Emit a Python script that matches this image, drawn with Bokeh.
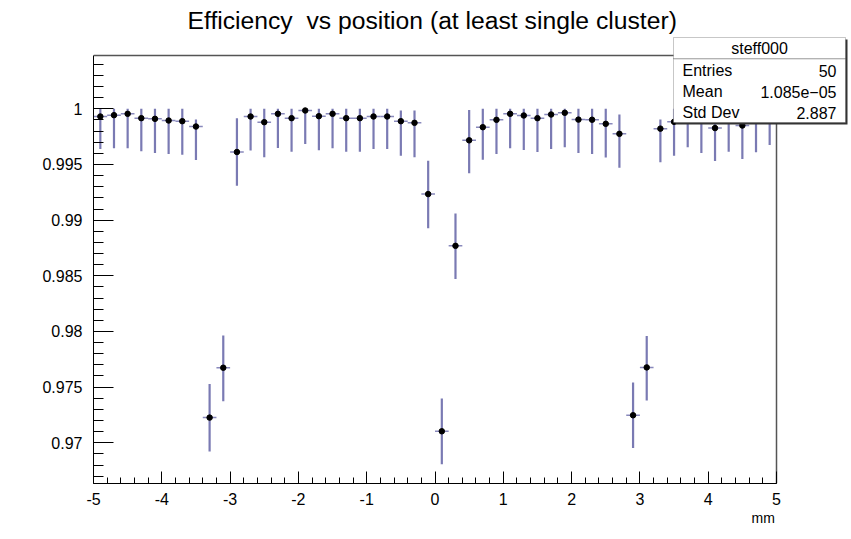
from bokeh.plotting import figure
from bokeh.models import FixedTicker, SingleIntervalTicker, Label, BoxAnnotation, ColumnDataSource, Range1d, Title
from bokeh.embed import file_html
from bokeh.resources import INLINE

# ---- data ----
bin_centers = [-4.9, -4.7, -4.5, -4.3, -4.1, -3.9, -3.7, -3.5, -3.3, -3.1,
               -2.9, -2.7, -2.5, -2.3, -2.1, -1.9, -1.7, -1.5, -1.3, -1.1,
               -0.9, -0.7, -0.5, -0.3, -0.1, 0.1, 0.3, 0.5, 0.7, 0.9,
               1.1, 1.3, 1.5, 1.7, 1.9, 2.1, 2.3, 2.5, 2.7, 2.9,
               3.1, 3.3, 3.5, 3.7, 3.9, 4.1, 4.3, 4.5, 4.7, 4.9]
efficiency = [0.99931, 0.99943, 0.99955, 0.99916, 0.99910, 0.99895, 0.99889, 0.99841, 0.97226, 0.97674,
              0.99612, 0.99931, 0.99880, 0.99955, 0.99916, 0.99985, 0.99934, 0.99955, 0.99916, 0.99916,
              0.99931, 0.99931, 0.99889, 0.99874, 0.99234, 0.97103, 0.98769, 0.99717, 0.99835, 0.99901,
              0.99955, 0.99940, 0.99916, 0.99949, 0.99964, 0.99903, 0.99902, 0.99865, 0.99775, 0.97247,
              0.97677, 0.99822, 0.99883, 0.99960, 0.99910, 0.99827, 0.99920, 0.99850, 0.99910, 0.99980]
err_low_edge = [0.99639, 0.99645, 0.99645, 0.99618, 0.99603, 0.99594, 0.99588, 0.99540, 0.96922, 0.97374,
                0.99309, 0.99626, 0.99564, 0.99648, 0.99615, 0.99684, 0.99627, 0.99645, 0.99615, 0.99615,
                0.99639, 0.99639, 0.99579, 0.99564, 0.98928, 0.96808, 0.98471, 0.99421, 0.99542, 0.99595,
                0.99645, 0.99630, 0.99612, 0.99638, 0.99654, 0.99603, 0.99595, 0.99562, 0.99471, 0.96953,
                0.97380, 0.99519, 0.99579, 0.99654, 0.99603, 0.99531, 0.99615, 0.99550, 0.99610, 0.99676]
err_high_edge = [1.0, 1.0, 1.0, 1.0, 1.0, 1.0, 1.0, 0.99903, 0.97528, 0.97963,
                 0.99915, 1.0, 1.0, 1.0, 1.0, 1.0, 1.0, 1.0, 1.0, 1.0,
                 1.0, 1.0, 0.99985, 0.99985, 0.99534, 0.97398, 0.99059, 0.99990, 1.0, 1.0,
                 1.0, 1.0, 1.0, 1.0, 1.0, 1.0, 1.0, 1.0, 0.99950, 0.97542,
                 0.97960, 0.99904, 1.0, 1.0, 1.0, 1.0, 1.0, 1.0, 1.0, 1.0]
bin_half_width = 0.1

x_axis_min, x_axis_max = -5.0, 5.0
y_axis_min, y_axis_max = 0.96634, 1.00479
x_major = [-5, -4, -3, -2, -1, 0, 1, 2, 3, 4, 5]
y_major = [0.97, 0.975, 0.98, 0.985, 0.99, 0.995, 1.0]
y_major_labels = ["0.97", "0.975", "0.98", "0.985", "0.99", "0.995", "1"]
y_minor = [round(0.967 + 0.001 * k, 3) for k in range(38)]

title_text = "Efficiency \u00a0vs position (at least single cluster)"
stats_name = "steff000"
stats_rows = [("Entries", "50"), ("Mean", "1.085e\u221205"), ("Std Dev", "2.887")]
x_title = "mm"

FONT = "Liberation Sans"
ERR_COLOR = "#6c6cab"

# pixel layout of the canvas (frame extended to hold the stats box)
FL, FR, FT, FB = 93, 848, 35, 483          # frame in canvas px
AX_R, AX_T = 776, 55                       # axis-box right / top in px
px_per_x = (AX_R - FL) / (x_axis_max - x_axis_min)
px_per_y = (FB - AX_T) / (y_axis_max - y_axis_min)
x_end = x_axis_max + (FR - AX_R) / px_per_x
y_end = y_axis_max + (AX_T - FT) / px_per_y

src = ColumnDataSource(dict(
    x=bin_centers, y=efficiency, lo=err_low_edge, hi=err_high_edge,
    xl=[c - bin_half_width for c in bin_centers],
    xr=[c + bin_half_width for c in bin_centers],
))

p = figure(width=851, height=539, output_backend="svg", toolbar_location=None,
           x_range=Range1d(x_axis_min, x_end), y_range=Range1d(y_axis_min, y_end),
           min_border_left=FL, min_border_right=851 - FR, min_border_top=FT, min_border_bottom=539 - FB)
p.background_fill_color = "white"
p.border_fill_color = "white"
p.outline_line_color = None
p.xgrid.visible = False
p.ygrid.visible = False

# axis box top and right edges
p.segment(x0=[x_axis_min, x_axis_max], y0=[y_axis_max, y_axis_min],
          x1=[x_axis_max, x_axis_max], y1=[y_axis_max, y_axis_max],
          line_color="#555555", line_width=1.5)

# error bars and markers
p.segment(x0="x", y0="lo", x1="x", y1="hi", source=src, line_color=ERR_COLOR, line_width=2.2, line_alpha=0.9)
p.segment(x0="xl", y0="y", x1="xr", y1="y", source=src, line_color=ERR_COLOR, line_width=1.5, line_alpha=0.8)
p.scatter(x="x", y="y", source=src, size=5.5, color="black")

# axes
xa = p.xaxis[0]
xa.bounds = (x_axis_min, x_axis_max)
xa.ticker = SingleIntervalTicker(interval=1, num_minor_ticks=5)
xa.major_tick_in = 12
xa.major_tick_out = 0
xa.minor_tick_in = 6
xa.minor_tick_out = 0
xa.axis_line_color = "black"
xa.major_tick_line_color = "black"
xa.minor_tick_line_color = "black"
xa.major_label_text_font = FONT
xa.major_label_text_font_size = "16px"
xa.major_label_text_color = "black"
xa.major_label_standoff = 9
xa.major_label_overrides = {v: ("-" + str(-v) if v < 0 else str(v)) for v in x_major}

ya = p.yaxis[0]
ya.bounds = (y_axis_min, y_axis_max)
ya.ticker = FixedTicker(ticks=y_major, minor_ticks=y_minor)
ya.major_tick_in = 20
ya.major_tick_out = 0
ya.minor_tick_in = 10
ya.minor_tick_out = 0
ya.axis_line_color = "black"
ya.major_tick_line_color = "black"
ya.minor_tick_line_color = "black"
ya.major_label_text_font = FONT
ya.major_label_text_font_size = "16px"
ya.major_label_text_color = "black"
ya.major_label_standoff = 11
ya.major_label_overrides = {v: lab for v, lab in zip(y_major, y_major_labels)}

# title above, axis title below
p.title = Title(text=title_text, align="left", offset=187 - FL, standoff=4,
                text_font=FONT, text_font_size="24.7px", text_font_style="normal", text_color="black")
p.add_layout(Title(text=x_title, align="left", offset=751 - FL, standoff=1,
                   text_font=FONT, text_font_size="14px", text_font_style="normal", text_color="black"), "below")

# stats box (frame-relative screen units)
def sx(px):
    return px - FL

def sy(py):
    return FB - py

def box(l, r, t, b, **kw):
    return BoxAnnotation(left=sx(l), right=sx(r), top=sy(t), bottom=sy(b),
                         left_units="screen", right_units="screen", top_units="screen", bottom_units="screen", **kw)

p.add_layout(box(675, 847, 39, 124, fill_color="#333333", fill_alpha=1.0, line_alpha=0))
p.add_layout(box(673, 845, 37, 122, fill_color="white", fill_alpha=1.0, line_color="#444444", line_width=1))
p.add_layout(box(673, 845, 58, 58.5, fill_alpha=0, line_color="#444444", line_width=1))
p.add_layout(Label(x=sx(759), y=sy(48), x_units="screen", y_units="screen", text=stats_name,
                   text_font=FONT, text_font_size="16px", text_align="center",
                   text_baseline="middle", text_color="black"))
row_y = [70, 91, 112]
for (name, val), ry in zip(stats_rows, row_y):
    p.add_layout(Label(x=sx(682), y=sy(ry), x_units="screen", y_units="screen", text=name,
                       text_font=FONT, text_font_size="16px", text_align="left",
                       text_baseline="middle", text_color="black"))
    p.add_layout(Label(x=sx(836), y=sy(ry), x_units="screen", y_units="screen", text=val,
                       text_font=FONT, text_font_size="16px", text_align="right",
                       text_baseline="middle", text_color="black"))

open("out.html", "w").write(file_html(p, INLINE))
